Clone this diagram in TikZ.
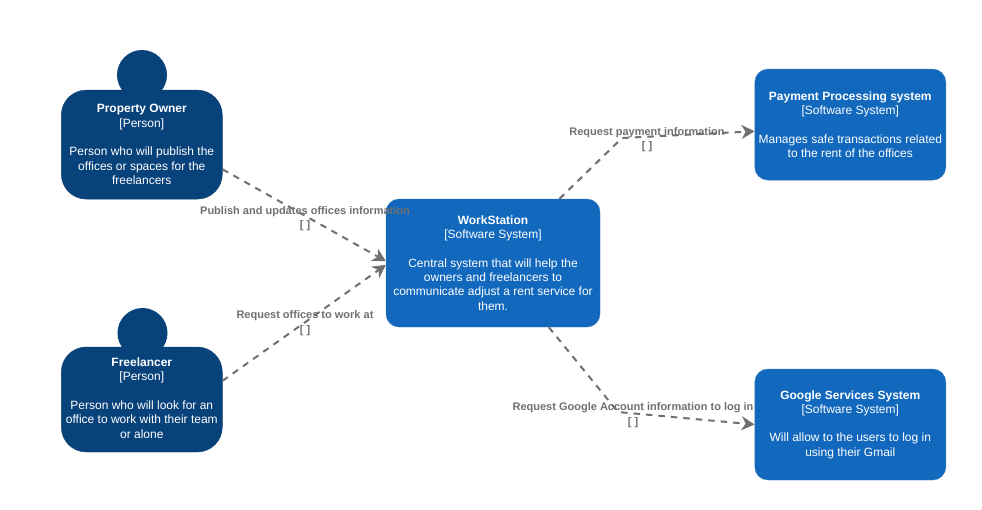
\documentclass[tikz,border=0pt]{standalone}
\usepackage{fontspec}
\setmainfont{Liberation Sans}
\usetikzlibrary{arrows.meta}

\definecolor{personColour}{HTML}{08427B}
\definecolor{personBorder}{HTML}{073B6F}
\definecolor{systemColour}{HTML}{1168BD}
\definecolor{systemBorder}{HTML}{3C7FC0}
\definecolor{linkColour}{HTML}{707070}

\tikzset{
    person/.style={draw=personBorder, fill=personColour, rounded corners=25pt, minimum width=161pt, inner sep=0pt,
        align=center, text=white, font=\fontsize{12}{14.3}\selectfont},
    head/.style={circle, fill=personColour, minimum size=50pt, inner sep=0pt},
    system/.style={draw=systemBorder, fill=systemColour, rounded corners=13pt, inner sep=0pt,
        align=center, text=white, font=\fontsize{12}{14.3}\selectfont},
    link/.style={draw=linkColour, line width=2pt, dash pattern=on 6.5pt off 6pt,
        -{Stealth[length=13pt,width=14pt,inset=4pt]}},
    linklabel/.style={align=center, inner sep=0pt, text=linkColour, font=\fontsize{11}{14.3}\selectfont\bfseries}
}

\begin{document}
\begin{tikzpicture}[x=1pt, y=-1pt]
    % Fix the page size
    \useasboundingbox (0,0) rectangle (982,509);

    % Draw the people
    \node[head] (ownerHead) at (142,75) {};
    \node[person, minimum height=109pt] (owner) at (141.8,144.6)
        {\textbf{Property Owner}\\ {[Person]}\\[14.3pt] Person who will publish the\\ offices or spaces for the\\ freelancers};
    \node[head] (freelancerHead) at (142.5,333) {};
    \node[person, minimum height=105pt] (freelancer) at (141.8,399.5)
        {\textbf{Freelancer}\\ {[Person]}\\[14.3pt] Person who will look for an\\ office to work with their team\\ or alone\rule[-3pt]{0pt}{3pt}};

    % Draw the systems
    \node[system, minimum width=214pt, minimum height=128pt] (work) at (493,263)
        {\textbf{WorkStation}\\ {[Software System]}\\[14.3pt] Central system that will help the\\ owners and freelancers to\\ communicate adjust a rent service for\\ them.};
    \node[system, minimum width=191pt, minimum height=111pt] (payment) at (850.3,124.6)
        {\textbf{Payment Processing system}\\ {[Software System]}\\[14.3pt] Manages safe transactions related\\ to the rent of the offices};
    \node[system, minimum width=191pt, minimum height=111pt] (google) at (850.3,424.5)
        {\textbf{Google Services System}\\ {[Software System]}\\[14.3pt] Will allow to the users to log in\\ using their Gmail};

    % Bends of the two right links
    \coordinate (paymentBend) at (622,138);
    \coordinate (googleBend) at (618,412);

    % Draw the links
    \draw[link] (owner.-17.6) -- (work.179.5);
    \draw[link] (freelancer.13.7) -- (work.181.6);
    \draw[link] (work.44.6) -- (paymentBend) -- (payment.184.4);
    \draw[link] (work.-49.3) -- (googleBend) -- (google.west);

    % Label the links
    \node[linklabel] (ownerLabel) at (305,219) {Publish and updates offices information\\ {[ ]}};
    \node[linklabel] (freelancerLabel) at (305,323) {Request offices to work at\\ {[ ]}};
    \node[linklabel] (paymentLabel) at (647,140) {Request payment information\\ {[ ]}};
    \node[linklabel] (googleLabel) at (633,415) {Request Google Account information to log in\\ {[ ]}};
\end{tikzpicture}
\end{document}
